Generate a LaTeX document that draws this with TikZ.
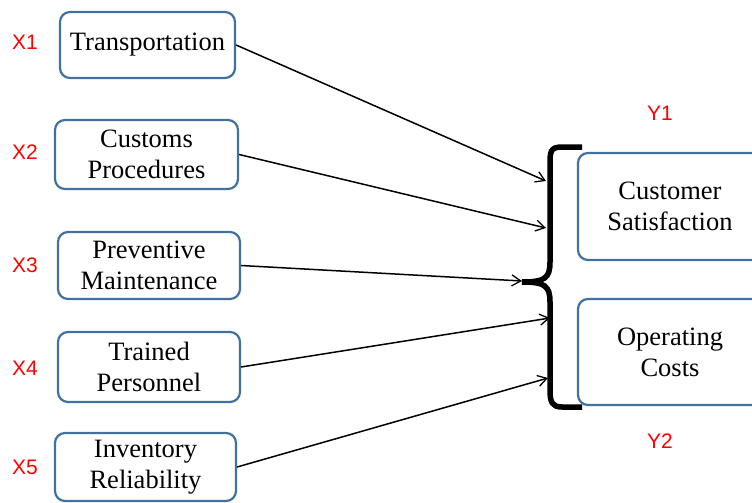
\documentclass[tikz,border=0pt]{standalone}
\usepackage{fontspec}
\setmainfont{Liberation Serif}
\newfontfamily\arialf{Liberation Sans}
\usetikzlibrary{arrows.meta}
\definecolor{boxblue}{HTML}{41719C}
\definecolor{lblred}{HTML}{FF0000}
\tikzset{
  vbox/.style={draw=boxblue, line width=2.2pt, rounded corners=10pt, align=center, inner sep=0pt,
    font=\fontsize{26.5}{31}\selectfont},
  lbl/.style={text=lblred, font=\arialf\fontsize{21}{24}\selectfont},
  arr/.style={-{Straight Barb[length=9pt,width=11pt,line width=1.3pt]}, line width=1.5pt}
}
\begin{document}
\begin{tikzpicture}[x=1pt,y=-1pt]
\useasboundingbox (0,0) rectangle (752,503);
% left boxes
\node[vbox, minimum width=175, minimum height=66] (x1) at (147.5,45) {Transportation};
\node[vbox, minimum width=183, minimum height=69] (x2) at (146.5,154.5) {Customs\\Procedures};
\node[vbox, minimum width=182, minimum height=67] (x3) at (149,265.5) {Preventive\\Maintenance};
\node[vbox, minimum width=182, minimum height=70] (x4) at (149,367) {Trained\\Personnel};
\node[vbox, minimum width=181, minimum height=68] (x5) at (145.5,467) {Inventory\\Reliability};
% right boxes
\node[vbox, minimum width=184, minimum height=107] (y1) at (670,206.5) {Customer\\Satisfaction};
\node[vbox, minimum width=184, minimum height=106] (y2) at (670,352) {Operating\\Costs};
% labels
\node[lbl] (l1) at (25,42) {X1};
\node[lbl] (l2) at (25,152) {X2};
\node[lbl] (l3) at (25,265) {X3};
\node[lbl] (l4) at (25,368) {X4};
\node[lbl] (l5) at (25,467) {X5};
\node[lbl] (ly1) at (660,113) {Y1};
\node[lbl] (ly2) at (660,441) {Y2};
% brace
\coordinate (btop) at (582,147);
\coordinate (bmid) at (522,282);
\coordinate (bbot) at (582,407);
\draw[line width=5.5pt]
  (btop) -- (562,147) .. controls (550,147) and (550,152) .. (550,165)
  -- (550,262) .. controls (550,278) and (545,282) .. (bmid)
  .. controls (545,282) and (550,286) .. (550,302)
  -- (550,390) .. controls (550,402) and (552,407) .. (562,407) -- (bbot);
% arrow targets
\coordinate (t1) at (546,181);
\coordinate (t2) at (546,228);
\coordinate (t3) at (522,281);
\coordinate (t4) at (550,318);
\coordinate (t5) at (548,378);
\draw[arr] (x1.east) -- (t1);
\draw[arr] (x2.east) -- (t2);
\draw[arr] (x3.east) -- (t3);
\draw[arr] (x4.east) -- (t4);
\draw[arr] (x5.east) -- (t5);
\end{tikzpicture}
\end{document}
